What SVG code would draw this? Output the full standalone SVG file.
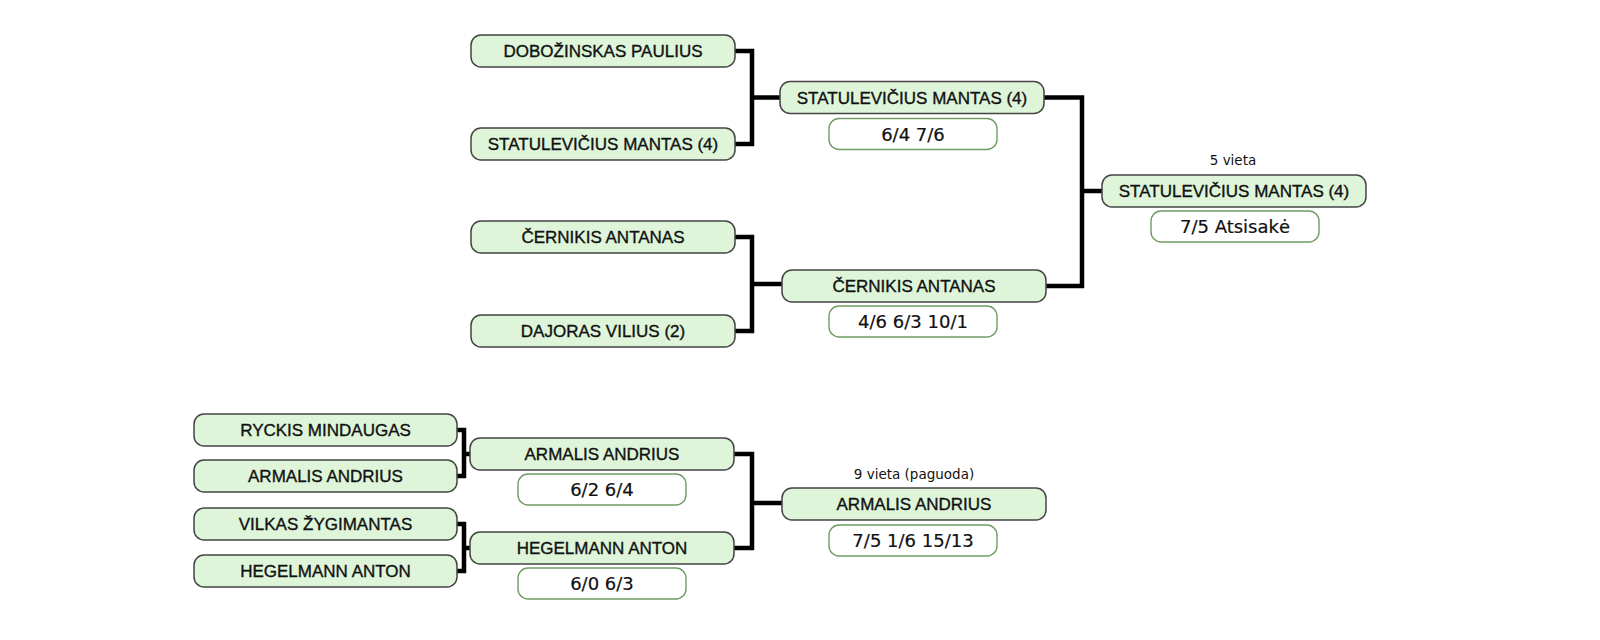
<svg xmlns="http://www.w3.org/2000/svg" width="1600" height="640" viewBox="0 0 1600 640">
<style>
.p{fill:#def5d9;stroke:#444444;stroke-width:1.5}
.s{fill:#ffffff;stroke:#6f9c63;stroke-width:1.4}
.n{font-family:"Liberation Sans",Arial,sans-serif;font-size:17px;fill:#111;stroke:#111;stroke-width:0.35;text-anchor:middle}
.r{font-family:"DejaVu Sans",sans-serif;font-size:18px;fill:#111;stroke:#111;stroke-width:0.2;text-anchor:middle}
.l{font-family:"DejaVu Sans",sans-serif;font-size:13.5px;fill:#111;text-anchor:middle}
.c{fill:none;stroke:#000;stroke-width:4.5;stroke-linejoin:miter}
</style>
<rect width="1600" height="640" fill="#ffffff"/>
<g id="connectors">
<path class="c" d="M735,51 H752 V144 H735 M752,97.5 H780"/>
<path class="c" d="M735,237 H752 V331 H735 M752,284 H782"/>
<path class="c" d="M1043,97.5 H1082 V286 H1044 M1082,191 H1102"/>
<path class="c" d="M457,430 H464 V476 H457 M464,454 H470"/>
<path class="c" d="M457,524 H464 V571 H457 M464,548 H470"/>
<path class="c" d="M734,454 H752 V548 H734 M752,503 H782"/>
</g>
<g id="r1-dobozinskas"><rect class="p" x="471" y="35" width="264" height="32" rx="10"/><text class="n" x="603" y="57">DOBOŽINSKAS PAULIUS</text></g>
<g id="r1-statulevicius"><rect class="p" x="471" y="128" width="264" height="32" rx="10"/><text class="n" x="603" y="150">STATULEVIČIUS MANTAS (4)</text></g>
<g id="r1-cernikis"><rect class="p" x="471" y="221" width="264" height="32" rx="10"/><text class="n" x="603" y="243">ČERNIKIS ANTANAS</text></g>
<g id="r1-dajoras"><rect class="p" x="471" y="315" width="264" height="32" rx="10"/><text class="n" x="603" y="337">DAJORAS VILIUS (2)</text></g>
<g id="r2-statulevicius"><rect class="p" x="780" y="81.5" width="264" height="32" rx="10"/><text class="n" x="912" y="103.5">STATULEVIČIUS MANTAS (4)</text>
<rect class="s" x="829" y="118.5" width="168" height="31" rx="10"/><text class="r" x="913" y="140.5">6/4 7/6</text></g>
<g id="r2-cernikis"><rect class="p" x="782" y="270" width="264" height="32" rx="10"/><text class="n" x="914" y="292">ČERNIKIS ANTANAS</text>
<rect class="s" x="829" y="306" width="168" height="31" rx="10"/><text class="r" x="913" y="328">4/6 6/3 10/1</text></g>
<g id="final-5"><text class="l" x="1233" y="165">5 vieta</text><rect class="p" x="1102" y="175" width="264" height="32" rx="10"/><text class="n" x="1234" y="197">STATULEVIČIUS MANTAS (4)</text>
<rect class="s" x="1151" y="211" width="168" height="31" rx="10"/><text class="r" x="1235" y="233">7/5 Atsisakė</text></g>
<g id="b1-ryckis"><rect class="p" x="194" y="414" width="263" height="32" rx="10"/><text class="n" x="325.5" y="436">RYCKIS MINDAUGAS</text></g>
<g id="b1-armalis"><rect class="p" x="194" y="460" width="263" height="32" rx="10"/><text class="n" x="325.5" y="482">ARMALIS ANDRIUS</text></g>
<g id="b1-vilkas"><rect class="p" x="194" y="508" width="263" height="32" rx="10"/><text class="n" x="325.5" y="530">VILKAS ŽYGIMANTAS</text></g>
<g id="b1-hegelmann"><rect class="p" x="194" y="555" width="263" height="32" rx="10"/><text class="n" x="325.5" y="577">HEGELMANN ANTON</text></g>
<g id="b2-armalis"><rect class="p" x="470" y="438" width="264" height="32" rx="10"/><text class="n" x="602" y="460">ARMALIS ANDRIUS</text>
<rect class="s" x="518" y="474" width="168" height="31" rx="10"/><text class="r" x="602" y="496">6/2 6/4</text></g>
<g id="b2-hegelmann"><rect class="p" x="470" y="532" width="264" height="32" rx="10"/><text class="n" x="602" y="554">HEGELMANN ANTON</text>
<rect class="s" x="518" y="568" width="168" height="31" rx="10"/><text class="r" x="602" y="590">6/0 6/3</text></g>
<g id="final-9"><text class="l" x="914" y="479">9 vieta (paguoda)</text><rect class="p" x="782" y="488" width="264" height="32" rx="10"/><text class="n" x="914" y="510">ARMALIS ANDRIUS</text>
<rect class="s" x="829" y="525" width="168" height="31" rx="10"/><text class="r" x="913" y="547">7/5 1/6 15/13</text></g>
</svg>
